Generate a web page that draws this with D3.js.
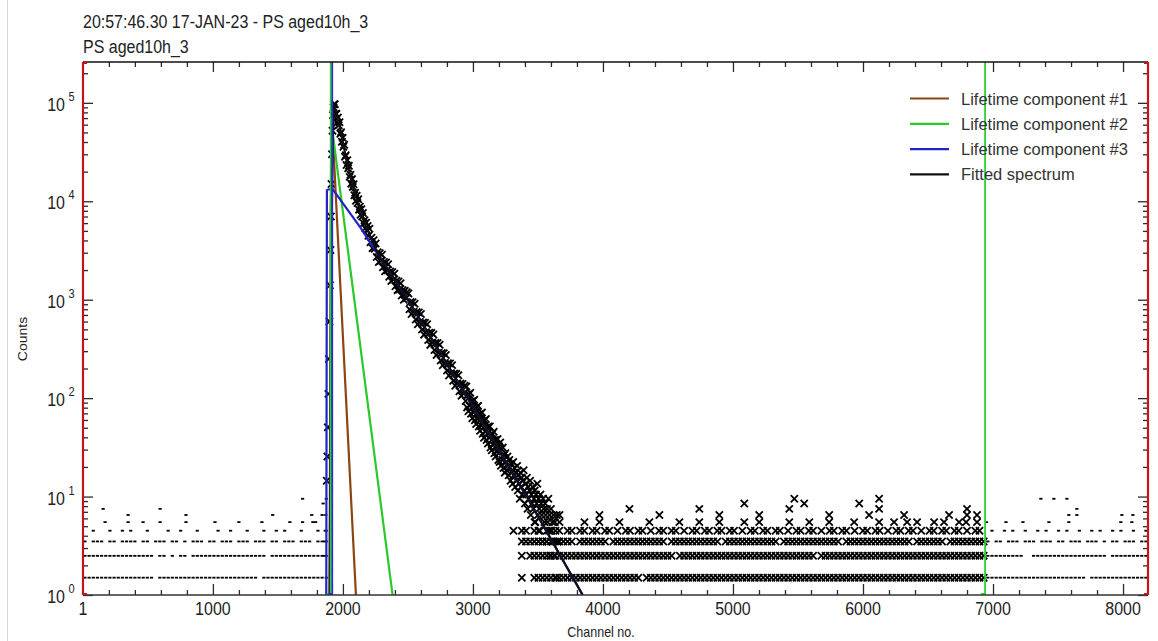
<!DOCTYPE html>
<html>
<head>
<meta charset="utf-8">
<script src="https://cdn.jsdelivr.net/npm/d3@7"></script>
<style>
  body { margin: 0; background: #fff; }
  svg { display: block; font-family: "Liberation Sans", Arial, sans-serif; }
</style>
</head>
<body>
<div id="chart"></div>
<script>
// ---------------- data ----------------
const titleLines = ["20:57:46.30 17-JAN-23 - PS aged10h_3", "PS aged10h_3"];
const xLabels = [1, 1000, 2000, 3000, 4000, 5000, 6000, 7000, 8000];
const yDecades = [0, 1, 2, 3, 4, 5];
const channelRange = [1, 8192];
const countRange = [1, 2.6e5];
const fitRange = [1876, 6939];          // channels shown with x markers
const countOffset = 0.5;                // the program plots counts + 0.5

// vertical marker lines [channel, colour]
const markers = [[1906, "#2ad42a"], [1918, "#2a2ad8"], [6939, "#2ad42a"]];

const legendItems = [
  {name: "Lifetime component #1", color: "#8b4513"},
  {name: "Lifetime component #2", color: "#2ac82a"},
  {name: "Lifetime component #3", color: "#2222cc"},
  {name: "Fitted spectrum", color: "#111"}
];

// model curves [channel, counts]
const comp1 = [[1898, 1], [1906, 8000], [1918, 6e4], [2100, 1]];
const comp2 = [[1900, 1], [1910, 2e4], [1916, 5.6e4], [2382, 1]];
const comp3 = [[1872, 1], [1877, 1.3e4], [1917, 1.35e4], [2135, 5.4e3], [2269, 2.9e3],
  [2500, 1e3], [2960, 100], [3414, 10], [3844, 1]];
const fitted = [[1898, 1], [1910, 2500], [1922, 4.5e4], [1934, 9.6e4], [1950, 7.5e4],
  [1977, 5.6e4], [2028, 2.6e4], [2092, 1.2e4], [2182, 5.4e3], [2269, 2.9e3],
  [2500, 1e3], [2960, 100], [3414, 10], [3844, 1]];

// measured spectrum: rising edge
const riseData = [[1856, 2], [1860, 3], [1864, 4], [1868, 6], [1872, 9], [1876, 14], [1880, 25],
  [1884, 50], [1888, 110], [1892, 250], [1896, 600], [1900, 1400], [1904, 3200], [1908, 7000],
  [1912, 15000], [1916, 30000], [1920, 52000], [1924, 75000], [1928, 90000], [1932, 97000]];

// measured spectrum: decay (uniformly sampled channels)
const peakStart = 1938, peakStep = 6;
const peakCounts = [97000, 77300, 77300, 63300, 71200, 59200, 63600, 48600, 50400, 40200,
  44100, 35800, 37500, 28300, 29300, 23400, 26100, 21600, 23000, 17700,
  18600, 15100, 16800, 14000, 14900, 11500, 12200, 10100, 11400, 9600,
  10500, 8220, 8820, 7300, 8310, 7010, 7610, 5970, 6410, 5310,
  6050, 5110, 5610, 4450];
const midStart = 2204, midStep = 8;
const midCounts = [5260, 3830, 4270, 3340, 4030, 3300, 3730, 2720, 3040, 2420,
  2970, 2480, 2860, 2130, 2420, 1940, 2390, 1990, 2290, 1710,
  1940, 1550, 1910, 1600, 1840, 1370, 1560, 1250, 1530, 1270,
  1470, 1100, 1250, 1000, 1230, 1030, 1190];
const tailStart = 2504, tailStep = 8;
const tailCounts = [1156, 801, 950, 713, 944, 755, 910, 630, 748, 561,
  742, 593, 716, 496, 588, 441, 584, 467, 563, 389,
  462, 347, 460, 368, 443, 307, 364, 273, 362, 289,
  348, 241, 287, 215, 285, 227, 274, 190, 226, 169,
  224, 179, 216, 150, 177, 133, 176, 141, 170, 117,
  140, 105, 139, 111, 133, 93];
const lowStart = 2950, lowStep = 5;
const lowCounts = [131, 80, 108, 73, 109, 83, 113, 69, 92, 62,
  93, 71, 96, 59, 79, 54, 81, 61, 83, 51,
  68, 46, 69, 52, 71, 43, 58, 39, 59, 45,
  61, 37, 50, 34, 51, 39, 51, 31, 42, 29,
  43, 33, 45, 27, 37, 25, 37, 28, 38, 23,
  32, 22, 35, 20, 30, 23, 31, 19, 26, 17,
  27, 22, 18, 25, 20, 16, 23, 19, 14, 21,
  17, 13, 22, 16, 19, 12, 17, 14, 20, 11,
  16, 13, 9, 17, 12, 15, 10, 14, 18, 11,
  8, 13, 10, 15, 7, 12, 9, 11, 14, 6,
  10, 8, 12, 7, 9, 11, 5, 10, 8, 13,
  6, 9, 7, 4, 10, 8, 6, 3, 9, 7,
  5, 8, 6, 3, 7, 5, 9, 4, 6, 2,
  7, 4, 5, 3, 6, 2, 5, 4, 1, 6,
  3];

// background rows: one char per 32-channel bin, "1" = a channel in that bin holds this count
const binWidth = 32;
const rowsLeft = { // bins 0..58
  1: "1111111111 1111111011 1111111111 1111111111 1101111111 111111111",
  2: "1111111111 1111111011 0101101111 1111111111 1111011111 111111111",
  3: "1011101101 1110110111 0110101110 1101110111 0111011011 101110111",
  4: "0010001001 0100010000 1001000100 0010010001 0001001010 001000101"
};
const rowsTail = { // bins 100..216
  1: "0000010011 1111111111 1111111111 1111011111 1111111111 1111111111 1111111111 1111111111 1111111111 1111111111 1111111111 1111111",
  2: "0000010111 1111111111 1111111111 1111111111 1101111111 1111111111 1111111111 1111110111 1111111111 1111111111 1111111111 1111111",
  3: "0000011111 1111111101 1111110111 1111111111 0111111111 1110111111 1111111011 1111111111 1101111111 1111111110 1111111011 1111111",
  4: "0001011011 0110101101 1011011010 1101101011 0110101101 1011011010 1101101101 0110110101 1011010110 1101011011 0101101101 1010110"
};
const rowsRight = { // bins 217..255
  1: "1111111111 1111111111 1111011111 111111111",
  2: "1111111110 0111111111 1111111110 111111111",
  3: "1011011101 1101110110 1110111010 110111011",
  4: "0100101001 0010100101 0010010100 101001001"
};
// rarer higher counts [count, channels]
const sparseRows = [
  [5, [171, 348, 463, 594, 793, 1016, 1200, 1377, 1592, 1690, 1769, 1790,
       3474, 3666, 3858, 3973, 4127, 4357, 4588, 4741, 4895, 5087, 5202, 5433, 5587, 5740,
       5932, 6124, 6239, 6339, 6416, 6547, 6623, 6739, 6793, 6877,
       6950, 7100, 7230, 7430, 7583, 7983, 8068]],
  [6, [348, 793, 1460, 1760, 1840,
       3666, 3973, 4434, 4895, 5202, 5740, 6047, 6316, 6662, 6800, 6877,
       7583, 7645, 7991, 8076]],
  [7, [156, 594, 4204, 4741, 5433, 6124, 6800, 7645]],
  [8, [1848, 5087, 5548, 5971]],
  [9, [1690, 5472, 6124, 7368, 7468, 7568]]
];

// ---------------- layout ----------------
const W = 1158, H = 641;
const plot = {left: 83, right: 1148, top: 62, bottom: 595};
const red = "#c2161c", tickCol = "#2a2a2a", textCol = "#222";

const x = d3.scaleLinear().domain(channelRange).range([plot.left, plot.right]);
const y = d3.scaleLog().domain(countRange).range([plot.bottom, plot.top]);

const svg = d3.select("#chart").append("svg").attr("width", W).attr("height", H);
svg.append("rect").attr("width", W).attr("height", H).attr("fill", "#fff");
svg.append("line").attr("x1", 7.5).attr("x2", 7.5).attr("y1", 0).attr("y2", H)
  .attr("stroke", "#d6d6d6");

svg.append("clipPath").attr("id", "clip").append("rect")
  .attr("x", plot.left).attr("y", plot.top)
  .attr("width", plot.right - plot.left).attr("height", plot.bottom - plot.top);

function label(g, px, py, s, size, anchor, sy, rot) {
  return g.append("text")
    .attr("transform", `translate(${px},${py}) scale(1,${sy || 1})` + (rot ? ` rotate(${rot})` : ""))
    .attr("font-size", size)
    .attr("text-anchor", anchor)
    .attr("fill", textCol)
    .text(s);
}

// titles
label(svg, plot.left, 28, titleLines[0], 16, "start", 1.12);
label(svg, plot.left, 53, titleLines[1], 16, "start", 1.12);

// ---------------- measured points ----------------
const points = riseData.slice();
peakCounts.forEach((c, i) => points.push([peakStart + i * peakStep, c]));
midCounts.forEach((c, i) => points.push([midStart + i * midStep, c]));
tailCounts.forEach((c, i) => points.push([tailStart + i * tailStep, c]));
lowCounts.forEach((c, i) => points.push([lowStart + i * lowStep, c]));

function addRows(rows, firstBin) {
  Object.entries(rows).forEach(([count, s]) => {
    s.replace(/ /g, "").split("").forEach((ch, j) => {
      if (ch === "1") points.push([(firstBin + j) * binWidth + binWidth / 2, +count]);
    });
  });
}
addRows(rowsLeft, 0);
addRows(rowsTail, 100);
addRows(rowsRight, 217);
sparseRows.forEach(([count, chans]) => chans.forEach(c => points.push([c, count])));

const inFit = d => d[0] >= fitRange[0] && d[0] <= fitRange[1];
const plotArea = svg.append("g").attr("clip-path", "url(#clip)");

plotArea.append("g")
  .selectAll("path")
  .data(points.filter(d => d[1] > 0))
  .join("path")
  .attr("transform", d => `translate(${x(d[0])},${y(d[1] + countOffset)})`)
  .attr("d", d => inFit(d) ? "M-3.6,-3.6L3.6,3.6M-3.6,3.6L3.6,-3.6" : "M-1.6,0L1.6,0")
  .attr("stroke", "#000")
  .attr("stroke-width", 1.8)
  .attr("fill", "none");

// ---------------- model curves ----------------
const line = d3.line().x(d => x(d[0])).y(d => y(d[1]));
[[comp1, legendItems[0].color], [comp2, legendItems[1].color],
 [comp3, legendItems[2].color], [fitted, legendItems[3].color]].forEach(([data, col]) => {
  plotArea.append("path").datum(data)
    .attr("d", line)
    .attr("fill", "none")
    .attr("stroke", col)
    .attr("stroke-width", 2.2)
    .attr("stroke-linejoin", "round");
});

// vertical markers
markers.forEach(([c, col]) => {
  svg.append("path")
    .attr("d", `M${x(c)},${plot.top}V${plot.bottom - 1}h-4`)
    .attr("fill", "none")
    .attr("stroke", col)
    .attr("stroke-width", 1.8);
});

// ---------------- axes ----------------
const xMinor = d3.range(200, 8192, 200).filter(v => v % 1000 !== 0);
const xMajor = xLabels.filter(v => v > 1);
const yMajor = yDecades.map(e => Math.pow(10, e));
const yMinor = [];
yDecades.forEach(e => d3.range(2, 10).forEach(m => {
  const v = m * Math.pow(10, e);
  if (v < countRange[1]) yMinor.push(v);
}));

function tickAxis(axis, values, size, transform) {
  const g = svg.append("g")
    .attr("transform", transform)
    .call(axis.tickValues(values).tickSize(-size).tickSizeOuter(0).tickFormat(""));
  g.select(".domain").remove();
  g.selectAll(".tick line").attr("stroke", tickCol).attr("stroke-width", 1.3);
  return g;
}
tickAxis(d3.axisBottom(x), xMajor, 11, `translate(0,${plot.bottom})`);
tickAxis(d3.axisBottom(x), xMinor, 5, `translate(0,${plot.bottom})`);
tickAxis(d3.axisTop(x), xMajor, 10, `translate(0,${plot.top})`);
tickAxis(d3.axisTop(x), xMinor, 5, `translate(0,${plot.top})`);
tickAxis(d3.axisLeft(y), yMajor, 10, `translate(${plot.left},0)`);
tickAxis(d3.axisLeft(y), yMinor, 5, `translate(${plot.left},0)`);
tickAxis(d3.axisRight(y), yMajor, 10, `translate(${plot.right},0)`);
tickAxis(d3.axisRight(y), yMinor, 5, `translate(${plot.right},0)`);

// frame
svg.append("line").attr("x1", plot.left).attr("x2", plot.right)
  .attr("y1", plot.top).attr("y2", plot.top).attr("stroke", "#111").attr("stroke-width", 1.6);
svg.append("line").attr("x1", plot.left).attr("x2", plot.right)
  .attr("y1", plot.bottom).attr("y2", plot.bottom).attr("stroke", "#333").attr("stroke-width", 1.6);
svg.append("path")
  .attr("d", `M${x(channelRange[0]) + 4},${plot.top + 1}h-4V${plot.bottom - 1}h4`)
  .attr("fill", "none").attr("stroke", red).attr("stroke-width", 2.2);
svg.append("path")
  .attr("d", `M${x(channelRange[1]) - 4},${plot.top + 1}h4V${plot.bottom - 1}h-4`)
  .attr("fill", "none").attr("stroke", red).attr("stroke-width", 2.2);

// tick labels
xLabels.forEach(v => label(svg, x(v), 615, v, 16, "middle", 1.1));
yDecades.forEach(e => {
  const py = y(Math.pow(10, e));
  label(svg, 65, py + 8, "10", 16, "end", 1.1);
  label(svg, 68.5, py - 2, e, 11, "start", 1.1);
});

// axis titles
label(svg, 601, 637, "Channel no.", 12.5, "middle", 1.12);
label(svg, 27, 339, "Counts", 12.5, "middle", 1.12, -90);

// ---------------- legend ----------------
const legend = svg.append("g");
legendItems.forEach((it, i) => {
  const ly = 98.5 + i * 25.3;
  legend.append("line").attr("x1", 910).attr("x2", 949).attr("y1", ly).attr("y2", ly)
    .attr("stroke", it.color).attr("stroke-width", 2.2);
  legend.append("text").attr("x", 961).attr("y", ly + 6)
    .attr("font-size", 16.5).attr("fill", "#333").text(it.name);
});
</script>
</body>
</html>
